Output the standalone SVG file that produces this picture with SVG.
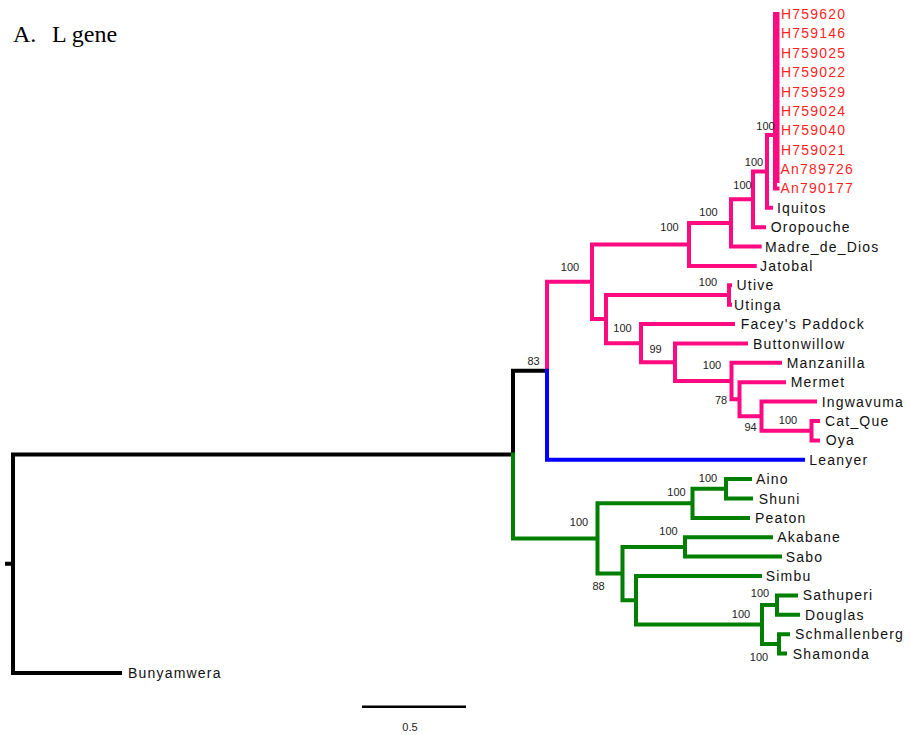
<svg xmlns="http://www.w3.org/2000/svg" width="910" height="735" viewBox="0 0 910 735">
<style>
.e{fill:none;stroke-width:4;stroke-linecap:square}
.pk{stroke:#ff0a80}.bk{stroke:#000}.bl{stroke:#0000ff}.gr{stroke:#007f00}
text{font-family:"Liberation Sans",Arial,sans-serif}
.lf{font-size:14px;letter-spacing:1.2px;fill:#111}
.rd{fill:#ff1f1f}
.sp{font-size:11px;fill:#222;text-anchor:middle}
.tt{font-family:"Liberation Serif","Times New Roman",serif;font-size:24px;fill:#000}
</style>
<rect width="910" height="735" fill="#fff"/>
<g id="connectors">
<path class="e bk" d="M7 563.75H13M13 454.6V672.9H120M13 454.6H513M513 370.75V454.6M513 370.75H547"/>
<path class="e pk" d="M547 281.8V370.75M547 281.8H592M592 244.5V319.1M592 244.5H689M592 319.1H606
M689 223V265.9M689 223H731M689 265.9H754.7M731 199.3V246.6M731 199.3H753M731 246.6H759.7
M753 171.4V227.2M753 171.4H767M753 227.2H764M767 135V207.8M767 135H775M767 207.8H771
M606 295V343.2M606 295H729M606 343.2H641M729 285.3V304.7M729 285.3H730M729 304.7H730
M641 324.1V362.25M641 324.1H733M641 362.25H675M675 343.5V381M675 343.5H746M675 381H731.5
M731.5 362.8V399.2M731.5 362.8H780M731.5 399.2H739.5M739.5 382.2V416.15M739.5 382.2H784M739.5 416.15H761.5
M761.5 401.6V430.7M761.5 401.6H815M761.5 430.7H811.5M811.5 421V440.4M811.5 421H818M811.5 440.4H818"/>
<path class="e pk" d="M775 14V188.4M775 188.4H777.5" stroke-width="3.5"/>
<path class="e pk" d="M777.5 14V181M775 169H777.5" stroke-width="2.5"/>
<path class="e bl" d="M547 370.75V459.7H803"/>
<path class="e gr" d="M513 454.6V538.5H597.5M597.5 503.35V573.6M597.5 503.35H692.5M597.5 573.6H622.5
M692.5 488.8V517.9M692.5 488.8H726M692.5 517.9H748M726 479.1V498.5M726 479.1H750M726 498.5H751
M622.5 547V600.25M622.5 547H685M622.5 600.25H636M685 537.3V556.6M685 537.3H771M685 556.6H780
M636 576V624.5M636 576H760M636 624.5H762M762 605.1V643.9M762 605.1H777M762 643.9H779
M777 595.4V614.8M777 595.4H796M777 614.8H798M779 634.2V653.5M779 634.2H788M779 653.5H785"/>
<path d="M362 706.7H466" stroke="#000" stroke-width="2.5" fill="none"/>
</g>
<g id="title"><text class="tt" x="13" y="42">A.</text><text class="tt" x="52" y="42">L gene</text></g>
<g id="scale"><text x="410" y="731" style="font-size:11px;fill:#222;text-anchor:middle">0.5</text></g>
<g id="leaf-H759620"><text class="lf rd" x="781" y="19">H759620</text></g>
<g id="leaf-H759146"><text class="lf rd" x="781" y="38.4">H759146</text></g>
<g id="leaf-H759025"><text class="lf rd" x="781" y="57.8">H759025</text></g>
<g id="leaf-H759022"><text class="lf rd" x="781" y="77.1">H759022</text></g>
<g id="leaf-H759529"><text class="lf rd" x="781" y="96.5">H759529</text></g>
<g id="leaf-H759024"><text class="lf rd" x="781" y="115.9">H759024</text></g>
<g id="leaf-H759040"><text class="lf rd" x="781" y="135.3">H759040</text></g>
<g id="leaf-H759021"><text class="lf rd" x="781" y="154.7">H759021</text></g>
<g id="leaf-An789726"><text class="lf rd" x="780.5" y="174">An789726</text></g>
<g id="leaf-An790177"><text class="lf rd" x="780.5" y="193.4">An790177</text></g>
<g id="leaf-Iquitos"><text class="lf" x="777" y="212.8">Iquitos</text></g>
<g id="leaf-Oropouche"><text class="lf" x="770.7" y="232.2">Oropouche</text></g>
<g id="leaf-Madre_de_Dios"><text class="lf" x="765" y="251.6">Madre_de_Dios</text></g>
<g id="leaf-Jatobal"><text class="lf" x="760" y="270.9">Jatobal</text></g>
<g id="leaf-Utive"><text class="lf" x="736.5" y="290.3">Utive</text></g>
<g id="leaf-Utinga"><text class="lf" x="734" y="309.7">Utinga</text></g>
<g id="leaf-Faceys_Paddock"><text class="lf" x="740.7" y="329.1">Facey's Paddock</text></g>
<g id="leaf-Buttonwillow"><text class="lf" x="753" y="348.5">Buttonwillow</text></g>
<g id="leaf-Manzanilla"><text class="lf" x="786.7" y="367.8">Manzanilla</text></g>
<g id="leaf-Mermet"><text class="lf" x="790.7" y="387.2">Mermet</text></g>
<g id="leaf-Ingwavuma"><text class="lf" x="821.7" y="406.6">Ingwavuma</text></g>
<g id="leaf-Cat_Que"><text class="lf" x="825" y="426">Cat_Que</text></g>
<g id="leaf-Oya"><text class="lf" x="825.7" y="445.4">Oya</text></g>
<g id="leaf-Leanyer"><text class="lf" x="809.3" y="464.7">Leanyer</text></g>
<g id="leaf-Aino"><text class="lf" x="756" y="484.1">Aino</text></g>
<g id="leaf-Shuni"><text class="lf" x="758.7" y="503.5">Shuni</text></g>
<g id="leaf-Peaton"><text class="lf" x="755" y="522.9">Peaton</text></g>
<g id="leaf-Akabane"><text class="lf" x="777.3" y="542.3">Akabane</text></g>
<g id="leaf-Sabo"><text class="lf" x="785.7" y="561.6">Sabo</text></g>
<g id="leaf-Simbu"><text class="lf" x="765.7" y="581">Simbu</text></g>
<g id="leaf-Sathuperi"><text class="lf" x="802.7" y="600.4">Sathuperi</text></g>
<g id="leaf-Douglas"><text class="lf" x="805" y="619.8">Douglas</text></g>
<g id="leaf-Schmallenberg"><text class="lf" x="795" y="639.2">Schmallenberg</text></g>
<g id="leaf-Shamonda"><text class="lf" x="792.7" y="658.5">Shamonda</text></g>
<g id="leaf-Bunyamwera"><text class="lf" x="128" y="677.9">Bunyamwera</text></g>
<g id="node-n776"><text class="sp" x="765.5" y="130">100</text></g>
<g id="node-n767"><text class="sp" x="754" y="166">100</text></g>
<g id="node-n753"><text class="sp" x="742.5" y="189">100</text></g>
<g id="node-n731"><text class="sp" x="708.5" y="215.7">100</text></g>
<g id="node-n689"><text class="sp" x="669.5" y="231.3">100</text></g>
<g id="node-n592"><text class="sp" x="570" y="271">100</text></g>
<g id="node-n729"><text class="sp" x="708" y="286">100</text></g>
<g id="node-n641"><text class="sp" x="622.5" y="332">100</text></g>
<g id="node-n675"><text class="sp" x="655.5" y="353">99</text></g>
<g id="node-nA"><text class="sp" x="712" y="369">100</text></g>
<g id="node-nB"><text class="sp" x="721" y="404">78</text></g>
<g id="node-nC"><text class="sp" x="750.5" y="431">94</text></g>
<g id="node-nD"><text class="sp" x="788" y="424">100</text></g>
<g id="node-n547"><text class="sp" x="533.5" y="365">83</text></g>
<g id="node-g3"><text class="sp" x="708" y="482">100</text></g>
<g id="node-g2"><text class="sp" x="676.5" y="496">100</text></g>
<g id="node-g1"><text class="sp" x="579" y="526">100</text></g>
<g id="node-g5"><text class="sp" x="668.5" y="535">100</text></g>
<g id="node-g4"><text class="sp" x="598.5" y="590">88</text></g>
<g id="node-g8"><text class="sp" x="760" y="597">100</text></g>
<g id="node-g7"><text class="sp" x="741" y="618">100</text></g>
<g id="node-g9"><text class="sp" x="759" y="661">100</text></g>
</svg>
